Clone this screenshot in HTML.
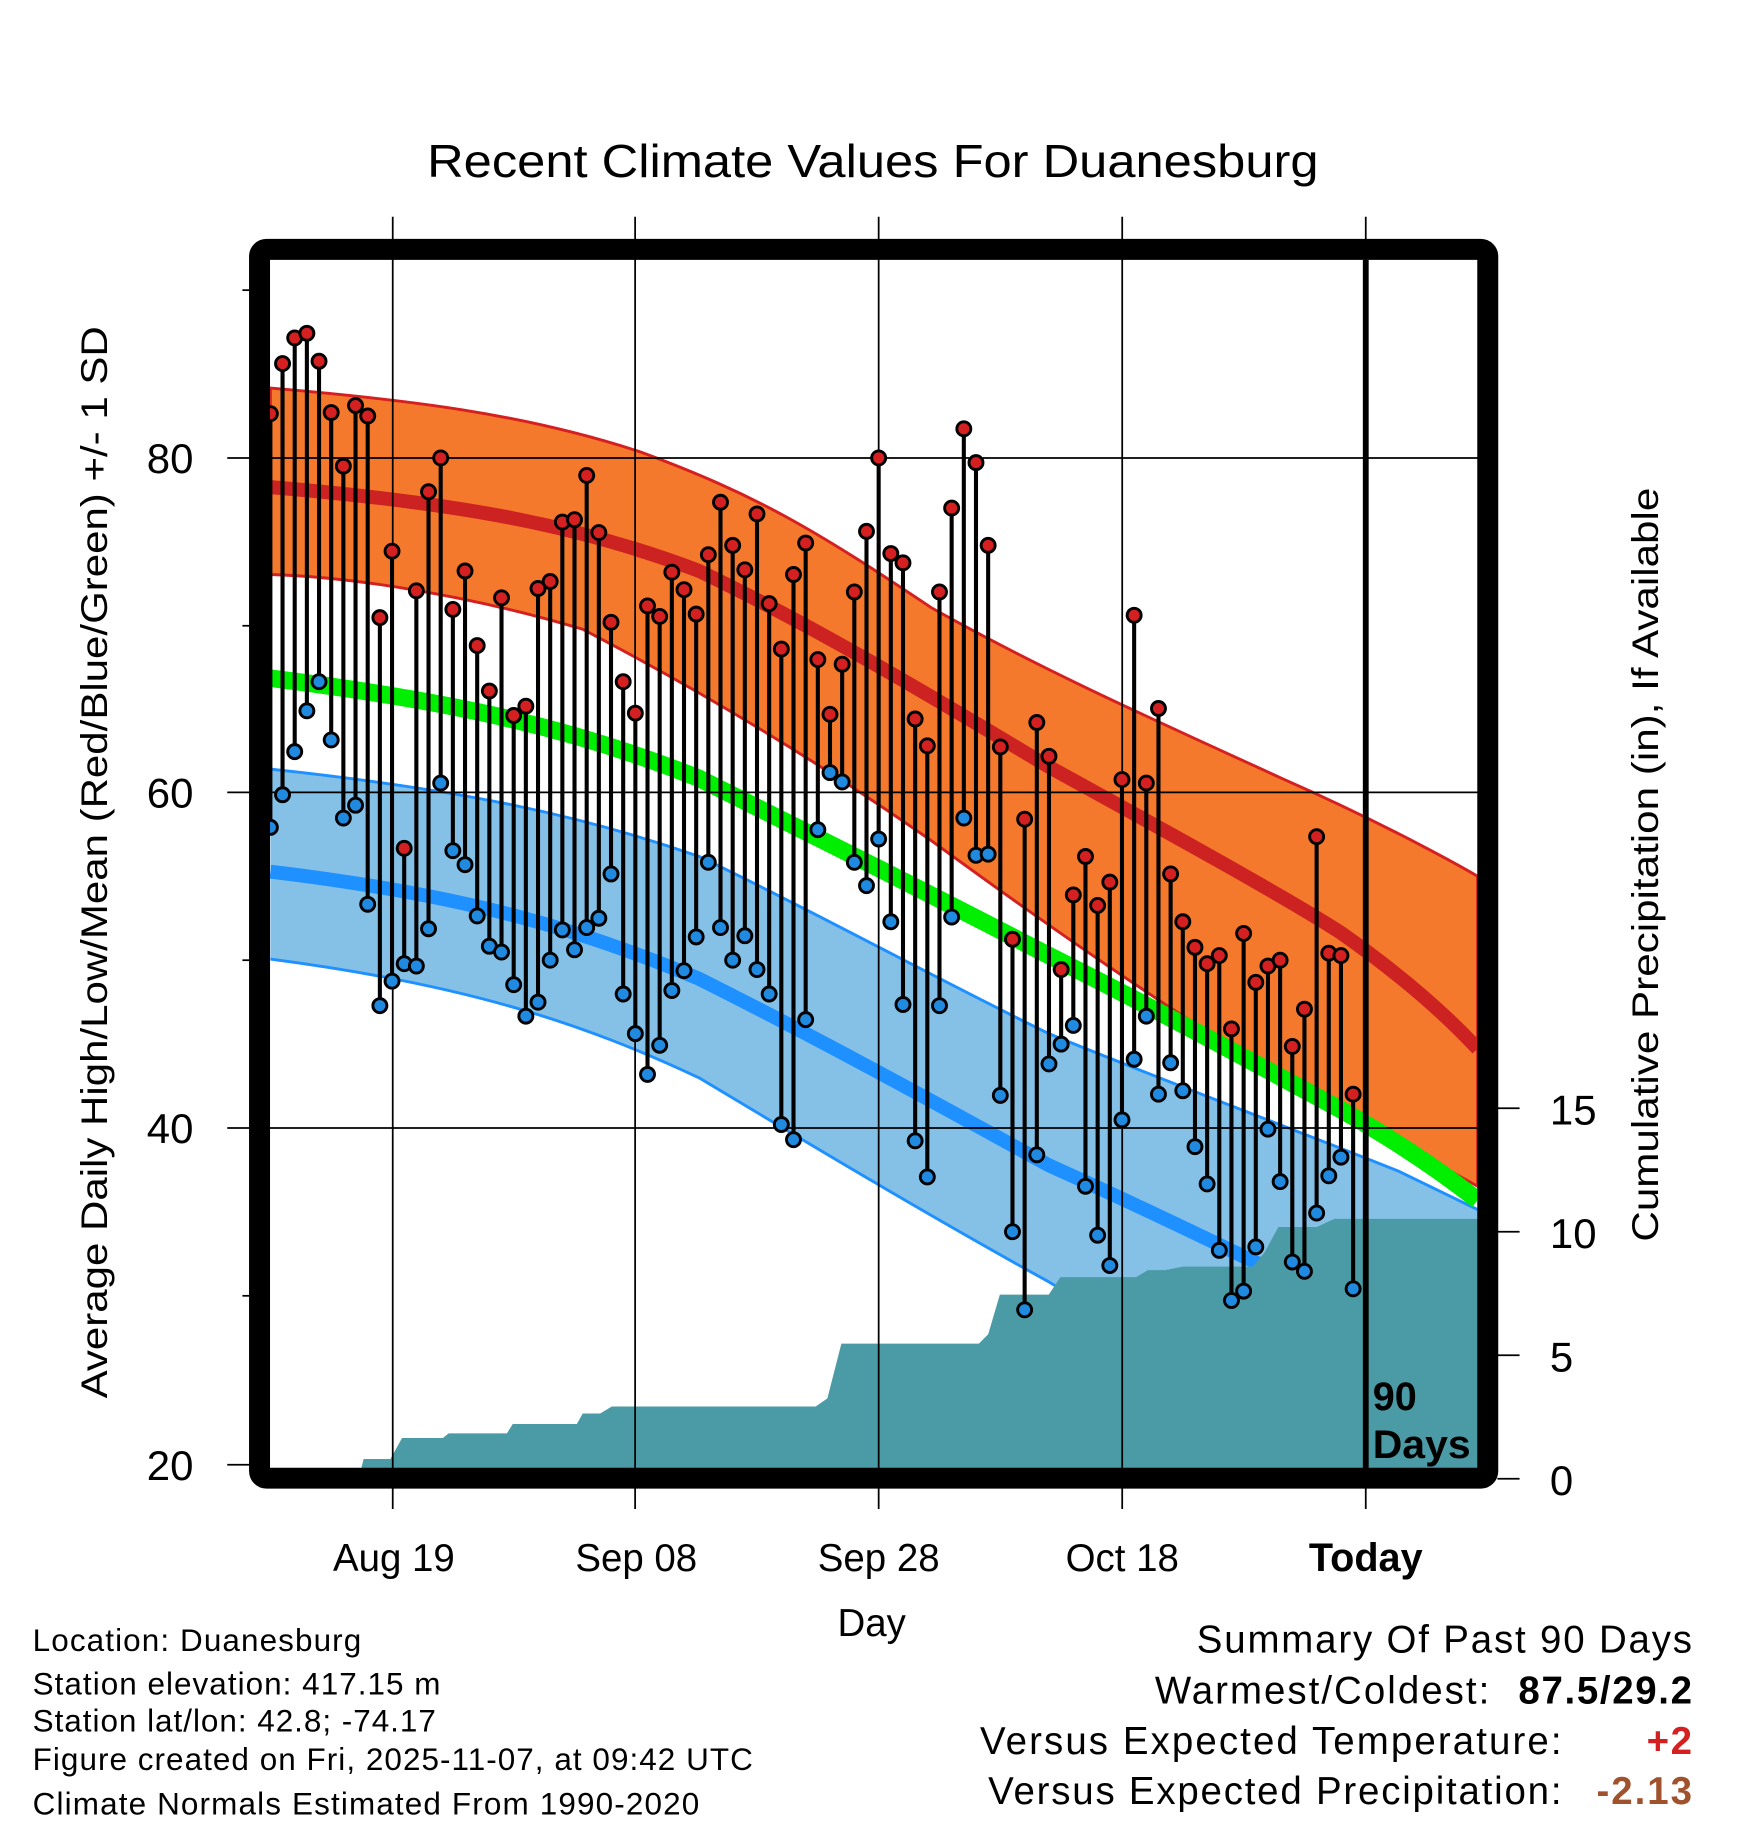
<!DOCTYPE html>
<html><head><meta charset="utf-8"><style>html,body{margin:0;padding:0;background:#fff}svg{display:block}</style></head>
<body>
<svg width="1748" height="1828" viewBox="0 0 1500 1568.7" xmlns="http://www.w3.org/2000/svg" font-family="Liberation Sans, Arial, sans-serif">
<defs><clipPath id="c"><rect x="231.7" y="223" width="1036.3" height="1037"/></clipPath></defs>
<g clip-path="url(#c)">
<path d="M232,333 C350,343 450,355 550,388 C650,425 700,455 800,522 C900,578 1000,622 1100,668 C1200,712 1268,752 1268,752 L1268,1018 C1200,980 1170,966 1100,925 C1000,865 900,795 800,722 C700,652 600,592 500,540 C400,510 300,495 232,493 Z" fill="#f4792c" stroke="#d42020" stroke-width="2.5"/>
<path d="M232,660 C400,678 500,700 600,735 C700,783 800,838 900,887 C1000,928 1100,965 1200,1005 L1268,1038 L1268,1250 L1060,1250 L1000,1160 L900,1100 C800,1045 700,985 600,925 C500,878 400,845 232,823 Z" fill="#85c1e6"/>
<path d="M232,660 C400,678 500,700 600,735 C700,783 800,838 900,887 C1000,928 1100,965 1200,1005 L1268,1038" fill="none" stroke="#1e90ff" stroke-width="2.5"/>
<path d="M232,823 C400,845 500,878 600,925 C700,985 800,1045 900,1100 L1000,1160" fill="none" stroke="#1e90ff" stroke-width="2.5"/>
<path d="M232,418 C400,432 500,452 600,490 C700,538 800,598 900,658 C1000,713 1100,768 1150,800 C1200,835 1240,870 1268,900" fill="none" stroke="#cc2222" stroke-width="12"/>
<path d="M232,582 C400,603 500,628 600,668 C700,718 800,768 900,820 C1000,870 1100,925 1150,952 C1200,980 1240,1008 1268,1030" fill="none" stroke="#00ee00" stroke-width="15"/>
<path d="M232,748 C400,768 500,798 600,840 C700,890 800,945 900,1000 C1000,1045 1070,1080 1150,1118" fill="none" stroke="#1e90ff" stroke-width="12"/>
<path d="M232,1260 L310,1260 L312,1252 L335,1252 L345,1234 L380,1234 L385,1230 L435,1230 L440,1222 L495,1222 L500,1213 L515,1213 L525,1207 L700,1207 L710,1200 L722,1153 L840,1153 L848,1145 L858,1111 L900,1111 L910,1096 L975,1096 L985,1090 L1000,1090 L1015,1087 L1075,1087 L1085,1075 L1097,1053 L1130,1053 L1145,1046 L1268,1046 L1268,1260 Z" fill="#4a9ba5"/>
</g>
<g stroke="#000" stroke-width="1.5">
<line x1="231" y1="393" x2="1268" y2="393"/><line x1="231" y1="680" x2="1268" y2="680"/><line x1="231" y1="968" x2="1268" y2="968"/>
<line x1="337" y1="186" x2="337" y2="1295"/><line x1="545" y1="186" x2="545" y2="1295"/><line x1="754" y1="186" x2="754" y2="1295"/><line x1="963" y1="186" x2="963" y2="1295"/><line x1="1172" y1="186" x2="1172" y2="1295"/>
<line x1="195" y1="393" x2="215" y2="393"/><line x1="195" y1="680" x2="215" y2="680"/><line x1="195" y1="968" x2="215" y2="968"/><line x1="195" y1="1257" x2="215" y2="1257"/>
<line x1="208" y1="249" x2="215" y2="249"/><line x1="208" y1="537" x2="215" y2="537"/><line x1="208" y1="824" x2="215" y2="824"/><line x1="208" y1="1112" x2="215" y2="1112"/>
<line x1="1285" y1="951" x2="1304" y2="951"/><line x1="1285" y1="1057" x2="1304" y2="1057"/><line x1="1285" y1="1163" x2="1304" y2="1163"/><line x1="1285" y1="1269" x2="1304" y2="1269"/>
</g>
<line x1="1172" y1="223" x2="1172" y2="1262" stroke="#000" stroke-width="5"/>
<g id="pts"></g>
<rect x="222.7" y="214" width="1054" height="1054.5" rx="6" fill="none" stroke="#000" stroke-width="18"/>
<text x="1178" y="1210" font-size="34" font-weight="bold">90</text>
<text x="1178" y="1251" font-size="34" font-weight="bold" textLength="84" lengthAdjust="spacingAndGlyphs">Days</text>
<text x="749" y="152" font-size="40" text-anchor="middle" textLength="765" lengthAdjust="spacingAndGlyphs">Recent Climate Values For Duanesburg</text>
<g font-size="36" text-anchor="end"><text x="166" y="406">80</text><text x="166" y="693">60</text><text x="166" y="981">40</text><text x="166" y="1270">20</text></g>
<g font-size="36"><text x="1330" y="965">15</text><text x="1330" y="1071">10</text><text x="1330" y="1177">5</text><text x="1330" y="1283">0</text></g>
<g font-size="33" text-anchor="middle"><text x="338" y="1348">Aug 19</text><text x="546" y="1348">Sep 08</text><text x="754" y="1348">Sep 28</text><text x="963" y="1348">Oct 18</text><text x="1172" y="1348" font-weight="bold" font-size="34">Today</text><text x="748" y="1404">Day</text></g>
<text transform="translate(92,740) rotate(-90)" font-size="32" text-anchor="middle" textLength="920" lengthAdjust="spacingAndGlyphs">Average Daily High/Low/Mean (Red/Blue/Green) +/- 1 SD</text>
<text transform="translate(1423,742) rotate(-90)" font-size="32" text-anchor="middle" textLength="647" lengthAdjust="spacingAndGlyphs">Cumulative Precipitation (in), If Available</text>
<g font-size="27" lengthAdjust="spacingAndGlyphs">
<text x="28" y="1417" textLength="282">Location: Duanesburg</text>
<text x="28" y="1454" textLength="350">Station elevation: 417.15 m</text>
<text x="28" y="1486" textLength="346">Station lat/lon: 42.8; -74.17</text>
<text x="28" y="1519" textLength="618">Figure created on Fri, 2025-11-07, at 09:42 UTC</text>
<text x="28" y="1557" textLength="572">Climate Normals Estimated From 1990-2020</text>
</g>
<g font-size="33" lengthAdjust="spacingAndGlyphs">
<text x="1027" y="1418" textLength="425">Summary Of Past 90 Days</text>
<text x="991" y="1462" textLength="287">Warmest/Coldest:</text>
<text x="1303" y="1462" textLength="149" font-weight="bold">87.5/29.2</text>
<text x="841" y="1505" textLength="499">Versus Expected Temperature:</text>
<text x="1413" y="1505" textLength="39" font-weight="bold" fill="#d42020">+2</text>
<text x="848" y="1548" textLength="492">Versus Expected Precipitation:</text>
<text x="1370" y="1548" textLength="82" font-weight="bold" fill="#a0522d">-2.13</text>
</g>
</svg>
<script>
var H=[355,312,290,286,310,354,400,348,357,530,473,728,507,422,393,523,490,554,593,513,614,606,505,499,448,446,408,457,534,585,612,520,529,491,506,527,476,431,468,489,441,518,557,493,466,566,613,570,508,456,393,475,483,617,640,508,436,368,397,468,641,806,703,620,649,832,768,735,777,757,669,528,672,608,750,791,813,827,820,883,801,843,829,824,898,866,718,818,820,939];
var L=[710,682,645,610,585,635,702,691,776,863,842,827,829,797,672,730,742,786,812,817,845,872,860,824,798,815,796,788,750,853,887,922,897,850,833,804,740,796,824,803,832,853,965,978,875,712,663,671,740,760,720,791,862,979,1010,863,787,702,734,733,940,1057,1124,991,913,896,880,1018,1060,1086,961,909,872,939,912,936,984,1016,1073,1116,1108,1070,969,1014,1083,1091,1041,1009,993,1106];
var s='',ns='http://www.w3.org/2000/svg';
for(var i=0;i<90;i++){var x=232+i*10.44;
s+='<line x1="'+x+'" y1="'+H[i]+'" x2="'+x+'" y2="'+L[i]+'" stroke="#000" stroke-width="3.5"/>';
s+='<circle cx="'+x+'" cy="'+H[i]+'" r="6" fill="#d42020" stroke="#000" stroke-width="2.5"/>';
s+='<circle cx="'+x+'" cy="'+L[i]+'" r="6" fill="#1f8ae0" stroke="#000" stroke-width="2.5"/>';}
var g=document.getElementById('pts');
var tmp=new DOMParser().parseFromString('<svg xmlns="'+ns+'">'+s+'</svg>','image/svg+xml').documentElement;
while(tmp.firstChild)g.appendChild(document.importNode(tmp.firstChild,true)),tmp.removeChild(tmp.firstChild);
</script>
</body></html>
